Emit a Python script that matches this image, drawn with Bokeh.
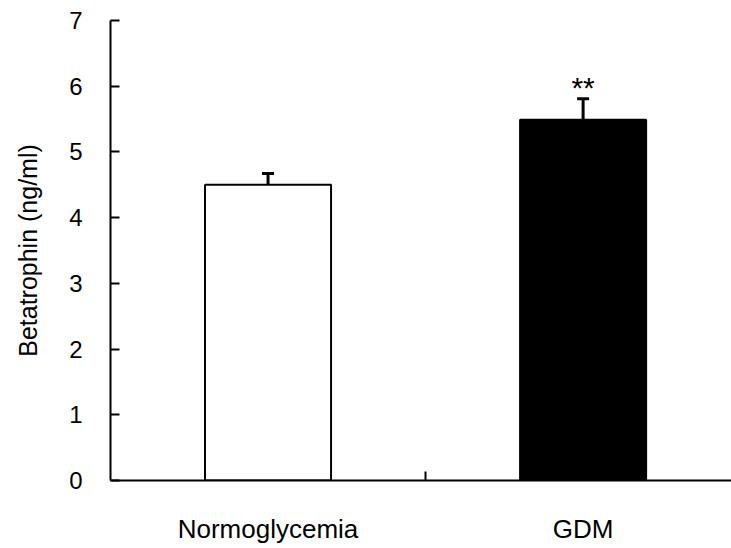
from bokeh.plotting import figure
from bokeh.models import Range1d, LinearAxis, FixedTicker, ColumnDataSource, Whisker, TeeHead
from bokeh.core.properties import value
from bokeh.embed import file_html
from bokeh.resources import INLINE

categories = ["Normoglycemia", "GDM"]
means = [4.50, 5.49]
errors = [0.17, 0.32]
significance = ["", "**"]
bar_fills = ["white", "black"]
y_ticks = [0, 1, 2, 3, 4, 5, 6, 7]

FONT = "Liberation Sans"

xs = [i + 0.5 for i in range(len(categories))]
tops = [m + e for m, e in zip(means, errors)]
src = ColumnDataSource(dict(x=xs, mean=means, top=tops, fill=bar_fills,
                            sig=significance, sig_y=[t + 0.17 for t in tops]))

p = figure(width=731, height=548, output_backend="svg", toolbar_location=None,
           x_range=Range1d(0, 1.971), y_range=Range1d(0, 7),
           x_axis_location=None, min_border_left=110, min_border_top=20,
           min_border_right=0, min_border_bottom=68)
p.outline_line_color = None
p.xgrid.visible = False
p.ygrid.visible = False

p.vbar(x="x", top="mean", bottom=0, width=0.4, fill_color="fill",
       line_color="black", line_width=2, source=src)

wh = Whisker(base="x", upper="top", lower="mean", source=src,
             upper_head=TeeHead(size=12, line_width=3, line_color="black"),
             lower_head=None, line_width=3, line_color="black")
p.add_layout(wh)

p.text(x="x", y="sig_y", text="sig", source=src, text_align="center",
       text_baseline="alphabetic", text_font=value(FONT), text_font_size="30px",
       text_color="black")

# y axis
ya = p.yaxis[0]
ya.ticker = FixedTicker(ticks=y_ticks)
ya.minor_tick_line_color = None
ya.major_tick_in = 9
ya.major_tick_out = 0
ya.major_tick_line_width = 2
ya.axis_line_width = 2
ya.axis_line_color = "black"
ya.major_tick_line_color = "black"
ya.major_label_text_font = FONT
ya.major_label_text_font_size = "24px"
ya.major_label_text_color = "black"
ya.major_label_standoff = 28
ya.axis_label = "Betatrophin (ng/ml)"
ya.axis_label_text_font = FONT
ya.axis_label_text_font_size = "25px"
ya.axis_label_text_font_style = "normal"
ya.axis_label_text_color = "black"
ya.axis_label_standoff = 24

# x axis line with middle tick
xa = LinearAxis(ticker=FixedTicker(ticks=[1.0]), major_label_overrides={1.0: ""},
                major_tick_in=9, major_tick_out=0, major_tick_line_width=2,
                axis_line_width=2, axis_line_color="black",
                major_tick_line_color="black", minor_tick_line_color=None,
                major_label_text_font_size="1px", major_label_standoff=0)
p.add_layout(xa, "below")

# category labels
xl = LinearAxis(ticker=FixedTicker(ticks=xs),
                major_label_overrides={x: c for x, c in zip(xs, categories)},
                axis_line_color=None, major_tick_line_color=None,
                minor_tick_line_color=None, major_tick_in=0, major_tick_out=0,
                major_label_text_font=FONT, major_label_text_font_size="26px",
                major_label_text_color="black", major_label_standoff=33)
p.add_layout(xl, "below")

open("out.html", "w").write(file_html(p, INLINE))
